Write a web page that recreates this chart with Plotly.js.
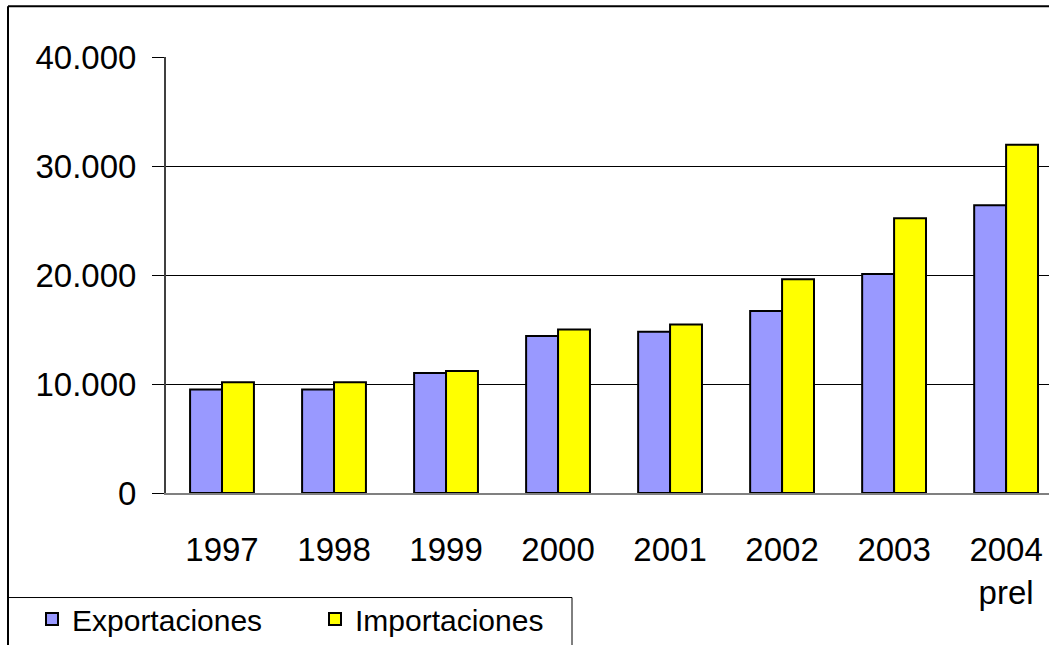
<!DOCTYPE html>
<html>
<head>
<meta charset="utf-8">
<script src="https://cdn.plot.ly/plotly-3.0.1.min.js"></script>
<style>html,body{margin:0;padding:0;background:#fff;}#chart{width:1049px;height:645px;}</style>
</head>
<body>
<div id="chart"></div>
<script>
const years = ["1997", "1998", "1999", "2000", "2001", "2002", "2003", "2004<br>prel"];
const exportaciones = [9500, 9500, 11000, 14400, 14800, 16700, 20100, 26400];
const importaciones = [10150, 10150, 11200, 15000, 15450, 19600, 25200, 31950];
const yTicks = [0, 10000, 20000, 30000, 40000];
const yTickText = ["0", "10.000", "20.000", "30.000", "40.000"];

const W = 1049, H = 645;
const M = {l: 166, r: 0, t: 57, b: 150};
const PW = W - M.l - M.r, PH = H - M.t - M.b;
const px = x => (x - M.l) / PW;
const py = y => (H - M.b - y) / PH;

const font = "Liberation Sans, Arial, sans-serif";

const traces = [
  {type: 'bar', name: 'Exportaciones', x: years, y: exportaciones,
   marker: {color: '#9999FF', line: {color: '#000', width: 2}}},
  {type: 'bar', name: 'Importaciones', x: years, y: importaciones,
   marker: {color: '#FFFF00', line: {color: '#000', width: 2}}}
];

const layout = {
  width: W, height: H,
  margin: M,
  paper_bgcolor: '#fff', plot_bgcolor: '#fff',
  font: {family: font, size: 33, color: '#000'},
  showlegend: true,
  barmode: 'group', bargap: 0.43, bargroupgap: 0,
  xaxis: {
    type: 'category', range: [-0.5, 7.383],
    showgrid: false, zeroline: false,
    showline: true, linecolor: '#808080', linewidth: 2,
    ticks: '', ticklabelstandoff: 26,
    tickfont: {family: font, size: 33, color: '#000'}
  },
  yaxis: {
    range: [0, 40000], tickvals: yTicks, ticktext: yTickText,
    showgrid: true, gridcolor: '#000', gridwidth: 1,
    zeroline: false, showline: true, linecolor: '#404040', linewidth: 2,
    ticks: 'outside', ticklen: 12, tickcolor: '#000', tickwidth: 1,
    ticklabelstandoff: 9,
    tickfont: {family: font, size: 33, color: '#000'}
  },
  legend: {
    orientation: 'h', x: px(32), xanchor: 'left', y: py(622), yanchor: 'middle',
    font: {family: font, size: 30, color: '#000'},
    bgcolor: 'rgba(0,0,0,0)', borderwidth: 0,
    entrywidth: 238, entrywidthmode: 'pixels', traceorder: 'normal'
  },
  shapes: [
    {type: 'line', xref: 'paper', yref: 'paper', x0: px(8), x1: px(1060), y0: py(6), y1: py(6), line: {color: '#000', width: 2}},
    {type: 'line', xref: 'paper', yref: 'paper', x0: px(8), x1: px(8), y0: py(6), y1: py(660), line: {color: '#000', width: 2}},
    {type: 'rect', xref: 'paper', yref: 'paper', x0: px(8), x1: px(572), y0: py(600), y1: py(660), line: {color: '#000', width: 1}, fillcolor: 'rgba(0,0,0,0)'}
  ]
};

Plotly.newPlot('chart', traces, layout, {staticPlot: true, displayModeBar: false});
</script>
</body>
</html>
